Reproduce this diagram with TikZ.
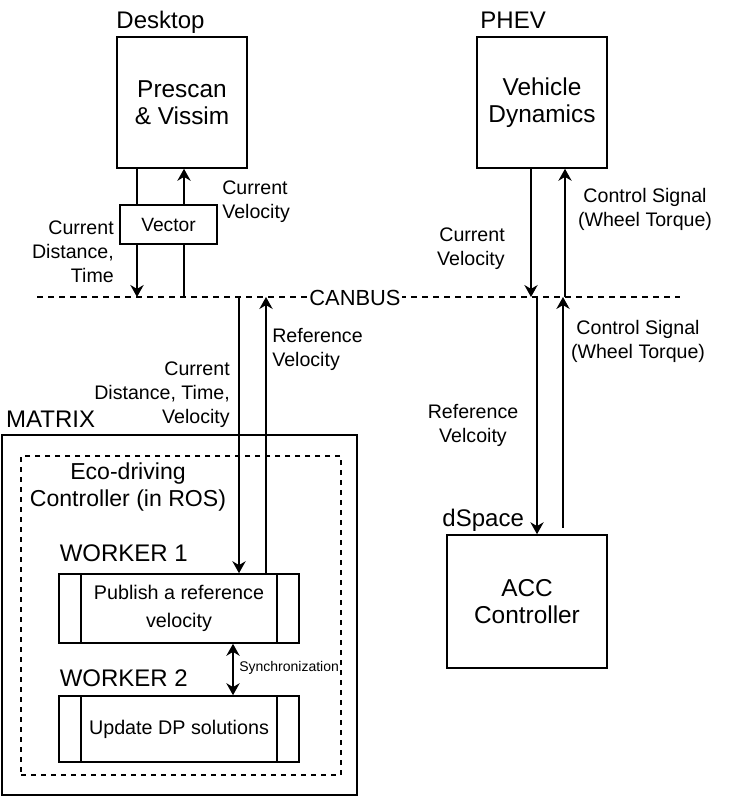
\documentclass[tikz,border=0pt]{standalone}
\usepackage{fontspec}
\setmainfont{Liberation Sans}
\usetikzlibrary{arrows.meta,positioning}

\begin{document}
\begin{tikzpicture}[
    x=0.75pt, y=-0.75pt,
    every node/.style = {font=\fontsize{14.7}{18}\selectfont},
    box/.style = {
        rectangle,
        draw,
        fill=white,
        line width=1.2pt,
        align=center,
        font=\fontsize{18.3}{20.3}\selectfont
    },
    procbox/.style = {
        box,
        minimum width=180pt,
        font=\fontsize{14.8}{21}\selectfont
    },
    title/.style = {inner sep=0pt, anchor=base west, font=\fontsize{18}{20}\selectfont},
    lbl/.style = {inner sep=0pt},
    arrow/.style = {
        -{Stealth[length=9pt,width=10pt]},
        line width=1.1pt
    },
    bus/.style = {dash pattern=on 4.5pt off 3.75pt, line width=0.9pt}
]
\useasboundingbox (0,0) rectangle (728,798);

% main blocks
\node[box, minimum width=97.5pt, minimum height=98.25pt] (desk) at (182,102.5) {Prescan\\\& Vissim};
\node[box, minimum width=97.5pt, minimum height=98.25pt] (phev) at (542,102.5) {Vehicle\\Dynamics};
\node[box, minimum width=120pt, minimum height=99.75pt] (dsp) at (527,601.5) {ACC\\Controller};
\node[draw, line width=1.2pt, minimum width=266.25pt, minimum height=270pt] (mtx) at (179.5,615) {};
\node[draw, dashed, dash pattern=on 3.75pt off 3.75pt, line width=0.9pt,
      minimum width=240pt, minimum height=239.25pt] (ros) at (181,615.5) {};
\node[procbox, minimum height=51.75pt] (w1) at (179,608.5) {Publish a reference\\velocity};
\node[procbox, minimum height=49.5pt] (w2) at (179,729) {Update DP solutions};
\foreach \w in {w1,w2} {
    \draw[line width=1.2pt] ([xshift=17.25pt]\w.north west) -- ([xshift=17.25pt]\w.south west);
    \draw[line width=1.2pt] ([xshift=-17.25pt]\w.north east) -- ([xshift=-17.25pt]\w.south east);
}

% titles
\node[title, above right=6pt and 0pt of desk.north west, anchor=base west] (desktit) {Desktop};
\node[title, above right=6pt and 3pt of phev.north west, anchor=base west] (phevtit) {PHEV};
\node[title, above right=5.25pt and 3.5pt of mtx.north west, anchor=base west] (mtxtit) {MATRIX};
\node[title, above right=6pt and -3pt of dsp.north west, anchor=base west] (dsptit) {dSpace};
\node[title, above right=8.5pt and 1pt of w1.north west, anchor=base west] (w1tit) {WORKER 1};
\node[title, above right=6.75pt and 1pt of w2.north west, anchor=base west] (w2tit) {WORKER 2};
\node[lbl, align=center, font=\fontsize{17.3}{20.3}\selectfont] (rostit) at (128,487) {Eco-driving\\Controller (in ROS)};

% CAN bus
\coordinate (b1) at (137,297);
\coordinate (b2) at (184,297);
\coordinate (b3) at (239,297);
\coordinate (b4) at (266,297);
\coordinate (b5) at (531,297);
\coordinate (b6) at (565,297);
\coordinate (b7) at (537,297);
\coordinate (b8) at (563,297);
\draw[bus] (37,297) coordinate (busl) -- (680,297) coordinate (busr);
\node[fill=white, inner sep=1pt, font=\fontsize{16.4}{18}\selectfont] (can) at (355,298) {CANBUS};

% vector interface
\node[box, minimum width=72.75pt, minimum height=29.25pt, font=\fontsize{14.4}{16}\selectfont] (vec) at (168.5,224.5) {Vector};
\draw[line width=1.1pt] (desk.south -| b1) -- (vec.north -| b1);
\draw[arrow] (vec.south -| b1) -- (b1);
\draw[line width=1.1pt] (b2) -- (vec.south -| b2);
\draw[arrow] (vec.north -| b2) -- (desk.south -| b2);

% matrix <-> bus
\draw[arrow] (b3) -- (w1.north -| b3);
\draw[arrow] (w1.north -| b4) -- (b4);
\draw[{Stealth[length=9pt,width=10pt]}-{Stealth[length=9pt,width=10pt]}, line width=1.1pt]
    (w1.south -| 233,0) -- (w2.north -| 233,0);
\node[lbl, anchor=west, font=\fontsize{10.5}{12}\selectfont] (sync) at (239,668) {Synchronization};

% vehicle and dSpace <-> bus
\draw[arrow] (phev.south -| b5) -- (b5);
\draw[arrow] (b6) -- (phev.south -| b6);
\draw[arrow] (b7) -- (dsp.north -| b7);
\draw[arrow] ([yshift=5pt]dsp.north -| b8) -- (b8);

% signal labels
\node[lbl, align=right, anchor=east] (l1) at (114,252) {Current\\Distance,\\Time};
\node[lbl, align=left, anchor=west] (l2) at (222,202) {Current\\Velocity};
\node[lbl, align=right, anchor=east] (l3) at (230,395) {Current\\Distance, Time,\\Velocity};
\node[lbl, align=left, anchor=west] (l4) at (272,349) {Reference\\Velocity};
\node[lbl, align=right, anchor=east] (l5) at (505,249) {Current\\Velocity};
\node[lbl, align=center] (l6) at (645,209) {Control Signal\\(Wheel Torque)};
\node[lbl, align=center] (l7) at (638,341) {Control Signal\\(Wheel Torque)};
\node[lbl, align=center] (l8) at (473,425) {Reference\\Velcoity};

\end{tikzpicture}
\end{document}
